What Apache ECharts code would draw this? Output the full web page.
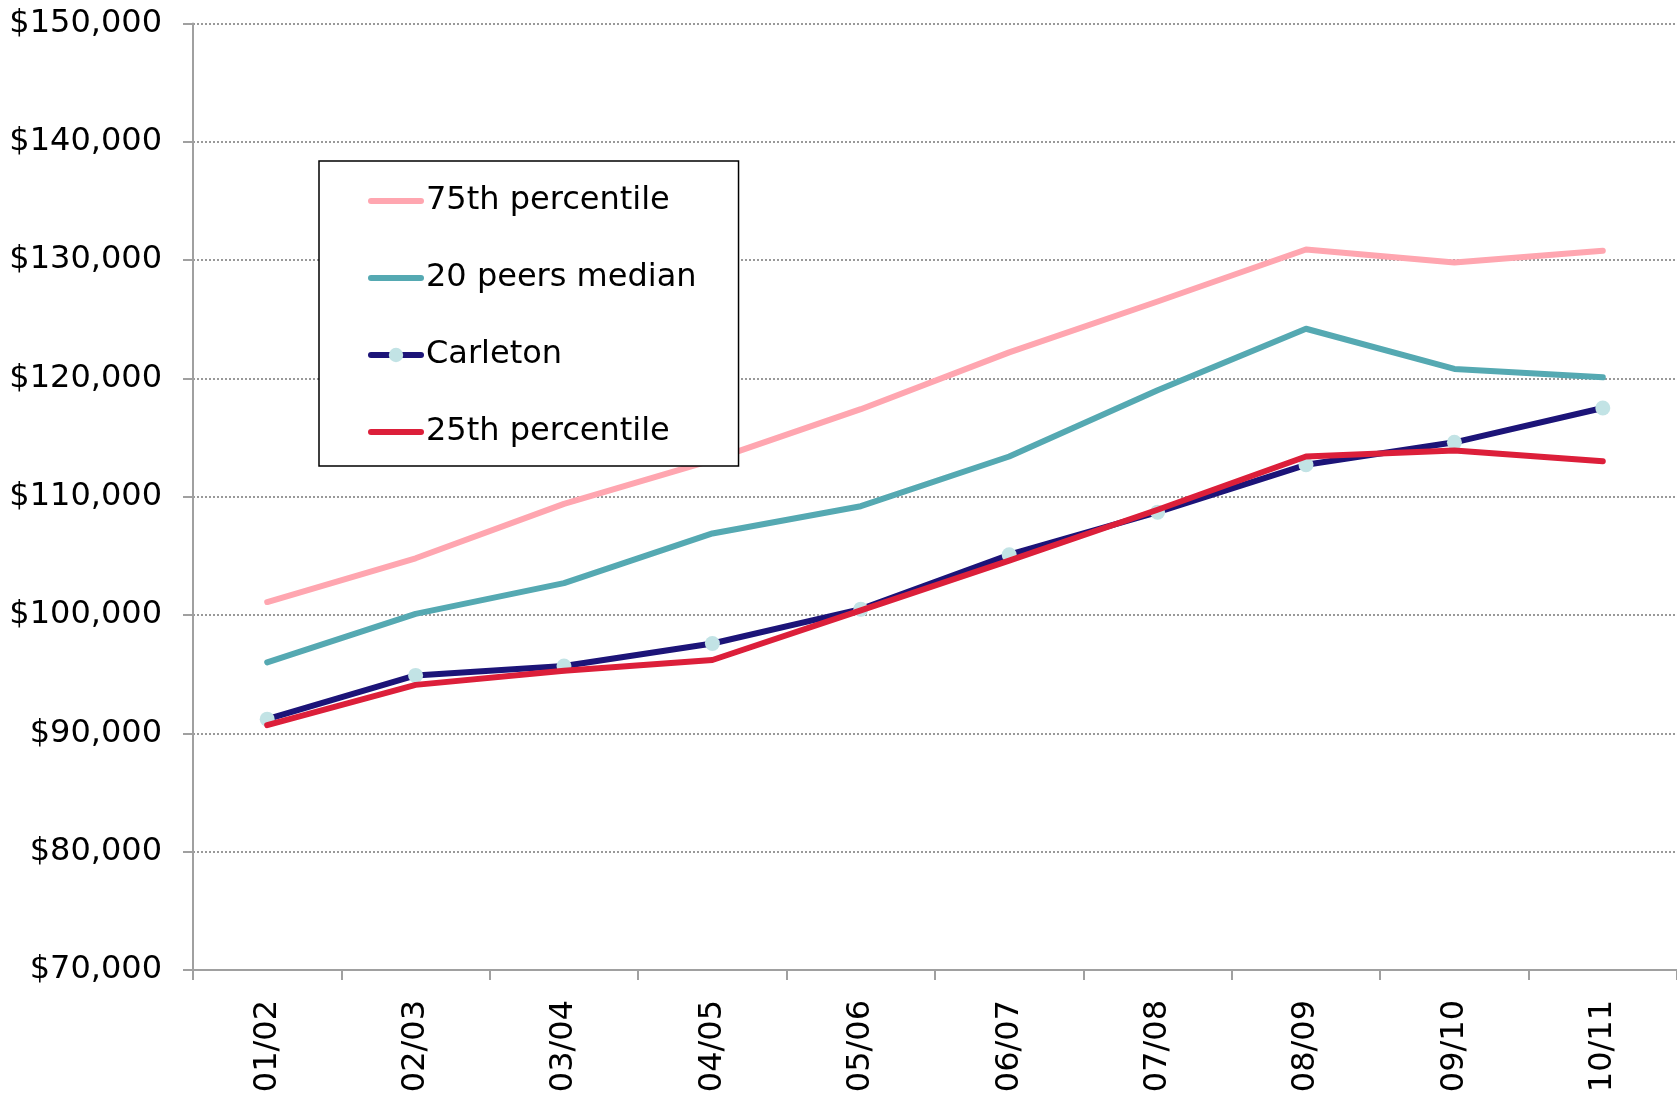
<!DOCTYPE html>
<html>
<head>
<meta charset="utf-8">
<script src="https://cdn.jsdelivr.net/npm/echarts@6/dist/echarts.min.js"></script>
<style>
html,body{margin:0;padding:0;background:#fff;}
#chart{width:1677px;height:1096px;}
</style>
</head>
<body>
<div id="chart"></div>
<script>
const categories = ['01/02','02/03','03/04','04/05','05/06','06/07','07/08','08/09','09/10','10/11'];
const p75 = [101100, 104800, 109400, 113100, 117400, 122200, 126500, 130900, 129800, 130800];
const peersMedian = [96000, 100100, 102700, 106900, 109200, 113400, 119000, 124200, 120800, 120100];
const carleton = [91200, 94900, 95700, 97600, 100500, 105100, 108700, 112700, 114600, 117500];
const p25 = [90700, 94100, 95300, 96200, 100400, 104600, 108900, 113400, 113900, 113000];
const yTicks = [70000, 80000, 90000, 100000, 110000, 120000, 130000, 140000, 150000];

const FONT = '"DejaVu Sans", Verdana, sans-serif';
const chart = echarts.init(document.getElementById('chart'));
function fmt(v){ return '$' + v.toString().replace(/\B(?=(\d{3})+(?!\d))/g, ','); }

chart.setOption({
  animation: false,
  backgroundColor: '#ffffff',
  grid: { left: 193, top: 23.5, width: 1489, bottom: 126, containLabel: false },
  legend: {
    left: 319, top: 161,
    orient: 'vertical',
    backgroundColor: '#ffffff',
    borderColor: '#000000',
    borderWidth: 1.5,
    padding: [24, 42, 18, 49],
    itemGap: 45,
    itemWidth: 50,
    itemHeight: 18,
    lineStyle: { width: 6, cap: 'round' },
    textStyle: { fontFamily: FONT, fontSize: 32, color: '#000' },
    data: [
      { name: '75th percentile', itemStyle: { opacity: 0 } },
      { name: '20 peers median', itemStyle: { opacity: 0 } },
      { name: 'Carleton' },
      { name: '25th percentile', itemStyle: { opacity: 0 } }
    ]
  },
  xAxis: {
    type: 'category',
    data: categories,
    boundaryGap: true,
    axisLine: { lineStyle: { color: '#a0a0a0', width: 2 } },
    axisTick: { show: true, length: 10, inside: false, alignWithLabel: false, lineStyle: { color: '#a0a0a0', width: 2 } },
    axisLabel: { rotate: 90, margin: 30, fontFamily: FONT, fontSize: 32, color: '#000', interval: 0 },
    splitLine: { show: false }
  },
  yAxis: {
    type: 'value',
    min: 70000, max: 150000, interval: 10000,
    axisLine: { show: true, lineStyle: { color: '#a0a0a0', width: 2 } },
    axisTick: { show: true, length: 10, lineStyle: { color: '#a0a0a0', width: 2 } },
    axisLabel: { margin: 31, fontFamily: FONT, fontSize: 32, color: '#000', formatter: fmt, customValues: yTicks },
    splitLine: { show: true, lineStyle: { color: '#999999', type: [2, 2], width: 2 } }
  },
  series: [
    { name: '75th percentile', type: 'line', data: p75, symbol: 'none', z: 2,
      lineStyle: { color: '#ffa6b0', width: 6, cap: 'round', join: 'round' }, itemStyle: { color: '#ffa6b0' } },
    { name: '20 peers median', type: 'line', data: peersMedian, symbol: 'none', z: 3,
      lineStyle: { color: '#55a9b2', width: 6, cap: 'round', join: 'round' }, itemStyle: { color: '#55a9b2' } },
    { name: 'Carleton', type: 'line', data: carleton, symbol: 'circle', symbolSize: 15, z: 4,
      lineStyle: { color: '#1c1478', width: 6, cap: 'round', join: 'round' }, itemStyle: { color: '#c2e3e5', borderWidth: 0 } },
    { name: '25th percentile', type: 'line', data: p25, symbol: 'none', z: 5,
      lineStyle: { color: '#dc1f3a', width: 6, cap: 'round', join: 'round' }, itemStyle: { color: '#dc1f3a' } }
  ]
});
</script>
</body>
</html>
